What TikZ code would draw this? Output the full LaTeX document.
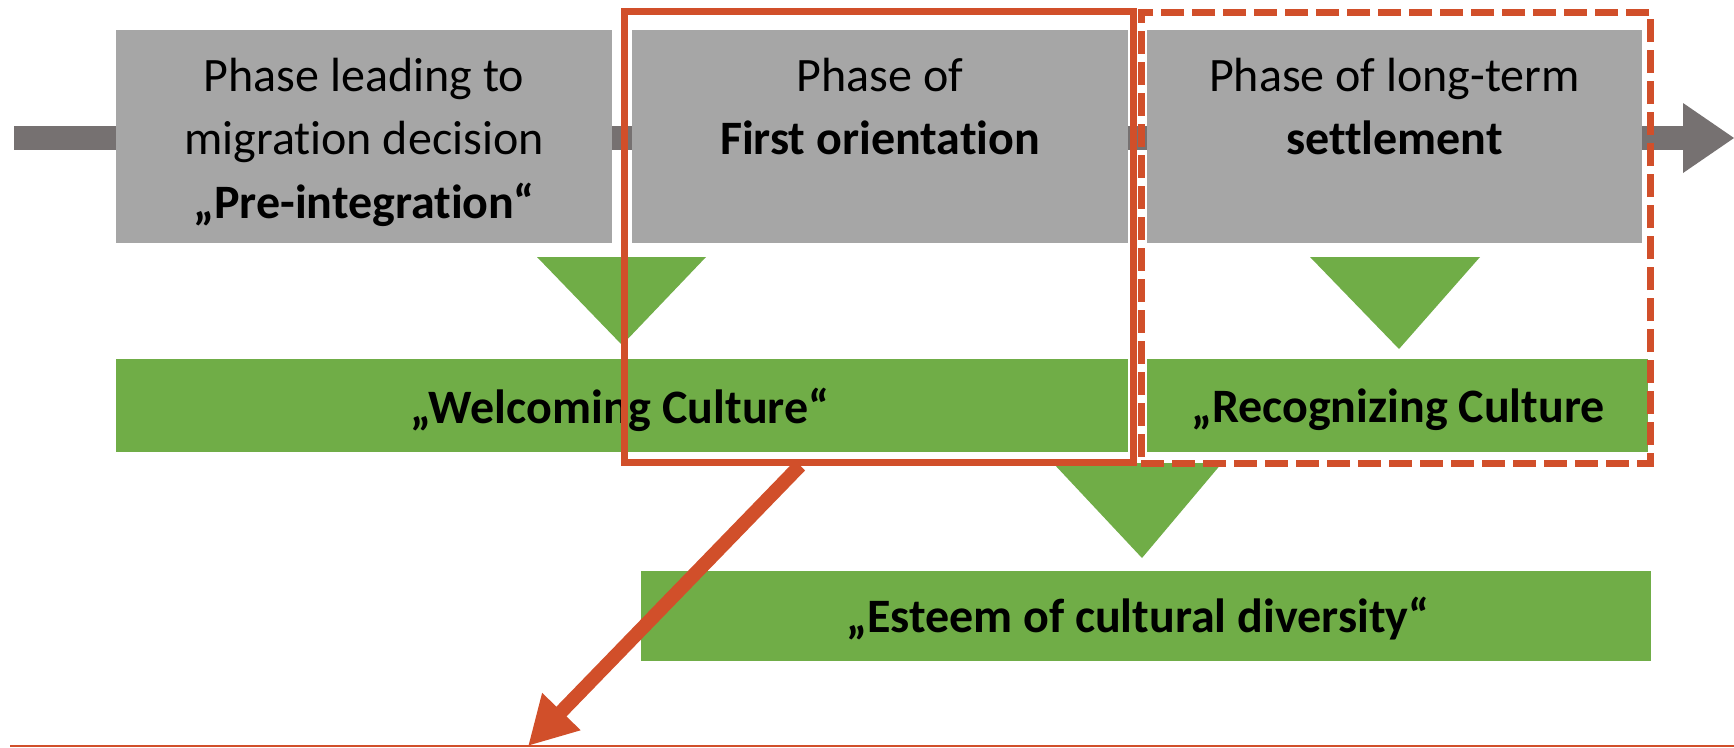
\documentclass[tikz,border=0pt]{standalone}
\usepackage{fontspec}
\setmainfont{Carlito}[RawFeature={-liga;-clig;-dlig;-calt}]
\usetikzlibrary{arrows.meta,calc}
\definecolor{boxgray}{HTML}{A6A6A6}
\definecolor{linegray}{HTML}{767171}
\definecolor{leaf}{HTML}{70AD47}
\definecolor{rust}{HTML}{D14F2A}
\tikzset{
  graybox/.style={fill=boxgray, draw=none, inner sep=0pt, minimum width=496pt, minimum height=213pt},
  greenbar/.style={fill=leaf, draw=none, inner sep=0pt, minimum height=93pt},
  lbl/.style={font=\fontsize{48}{58}\selectfont, inner sep=0pt, anchor=base, text=black},
  blbl/.style={lbl, font=\fontsize{48}{58}\selectfont\bfseries},
  redframe/.style={draw=rust, line width=7pt, inner sep=0pt, minimum width=509pt, minimum height=451pt, fill=none},
  tri/.style={fill=leaf, draw=none},
  pointer/.style={draw=rust, line width=14pt, -{Triangle[length=48pt,width=50pt]}},
}
\begin{document}
\begin{tikzpicture}[x=1pt,y=-1pt]
\useasboundingbox[fill=white] (0,0) rectangle (1734,747);
% timeline
\coordinate (ls) at (14,138);
\coordinate (le) at (1684,138);
\draw[linegray, line width=24pt] (ls) -- (le);
\fill[linegray] (1683,103) -- (1734,138) -- (1683,173) -- cycle;
% gray phase boxes
\node[graybox] (b1) at (364,136.5) {};
\node[graybox] (b2) at (880,136.5) {};
\node[graybox, minimum width=495pt] (b3) at (1394.5,136.5) {};
\node[lbl] (b1l1) at (364,91.5) {Phase leading to};
\node[lbl] (b1l2) at (364,154.5) {migration decision};
\node[blbl] (b1l3) at (364,218) {„Pre-integration“};
\node[lbl] (b2l1) at (880,91.5) {Phase of};
\node[blbl] (b2l2) at (880,154.5) {First orientation};
\node[lbl] (b3l1) at (1394.5,91.5) {Phase of long-term};
\node[blbl] (b3l2) at (1394.5,154.5) {settlement};
% triangles
\fill[tri] (537,257) -- (706,257) -- (622,345) -- cycle;
\fill[tri] (1310,257) -- (1480,257) -- (1399,349) -- cycle;
\fill[tri] (1053,463) -- (1222,463) -- (1142,558) -- cycle;
% green bars
\node[greenbar, minimum width=1012pt] (g1) at (622,405.5) {};
\node[greenbar, minimum width=501pt] (g2) at (1397.5,405.5) {};
\node[greenbar, minimum width=1010pt, minimum height=90pt] (g3) at (1146,616) {};
\node[blbl] (g1t) at (620,423) {„Welcoming Culture“};
\node[blbl] (g2t) at (1398,422) {„Recognizing Culture};
\node[blbl] (g3t) at (1138,632) {„Esteem of cultural diversity“};
% red frames
\node[redframe] (rs) at (878.5,236.5) {};
\node[redframe, dash pattern=on 23pt off 8pt] (rd) at (1395.5,237.5) {};
% bottom line and pointer
\coordinate (bl) at (10,746);
\coordinate (br) at (1734,746);
\draw[rust, line width=2.5pt] (bl) -- (br);
\coordinate (as) at ($(rs.south west)!0.348!(rs.south east)$);
\coordinate (ae) at (528,746);
\draw[pointer] (as) -- (ae);
\end{tikzpicture}
\end{document}
